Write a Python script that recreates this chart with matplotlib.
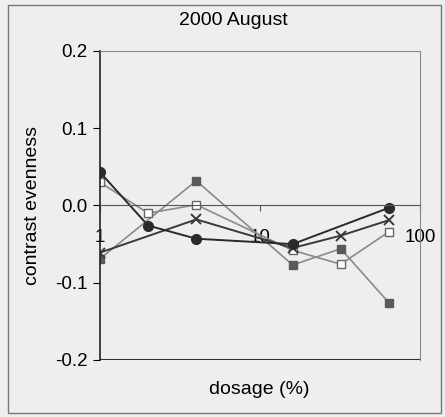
import numpy as np
import matplotlib.pyplot as plt
from matplotlib.patches import Rectangle

# dosage (%) and contrast evenness per series
dose_circle = [1, 2, 4, 16, 64]
circle = [0.043, -0.026, -0.043, -0.050, -0.003]

dose_cross = [1, 4, 16, 32, 64]
cross = [-0.061, -0.018, -0.055, -0.039, -0.019]

dose_open = [1, 2, 4, 16, 32, 64]
open_sq = [0.030, -0.010, 0.001, -0.058, -0.076, -0.034]

dose_fill = [1, 4, 16, 32, 64]
fill_sq = [-0.069, 0.032, -0.077, -0.056, -0.126]

yticks = [-0.2, -0.1, 0.0, 0.1, 0.2]
xticks = [1, 10, 100]

bg = '#eeeeee'
plt.rcParams['font.family'] = ['Liberation Sans', 'DejaVu Sans']

fig = plt.figure(figsize=(4.45, 4.17), dpi=100, facecolor=bg)
ax = fig.add_axes([0.2247, 0.1367, 0.719, 0.741], facecolor=bg)

ax.plot(dose_fill, fill_sq, color='#8a8a8a', lw=1.2, marker='s', ms=6,
        mfc='#5a5a5a', mec='#5a5a5a')
ax.plot(dose_open, open_sq, color='#8a8a8a', lw=1.2, marker='s', ms=6,
        mfc='white', mec='#666666')
ax.plot(dose_cross, cross, color='#3a3a3a', lw=1.4, marker='x', ms=7,
        mew=1.4)
ax.plot(dose_circle, circle, color='#2a2a2a', lw=1.4, marker='o', ms=7,
        mfc='#2a2a2a', mec='#2a2a2a')

ax.set_xscale('log')
ax.set_xlim(1, 100)
ax.set_ylim(-0.2, 0.2)

ax.spines['bottom'].set_position(('data', 0))
ax.spines['bottom'].set_color('#555555')
ax.spines['left'].set_color('#222222')
ax.spines['left'].set_linewidth(1.2)
ax.spines['top'].set_color('#888888')
ax.spines['right'].set_color('#888888')
ax.axhline(-0.2, color='#333333', lw=1.5, zorder=0.5)

ax.set_xticks(xticks)
ax.set_xticklabels([str(t) for t in xticks])
ax.xaxis.set_minor_locator(plt.NullLocator())
ax.tick_params(axis='x', direction='out', length=4, pad=13, labelsize=13.5,
               color='#555555')
ax.set_yticks(yticks)
ax.set_yticklabels(['%.1f' % t for t in yticks])
ax.tick_params(axis='y', direction='out', length=5, labelsize=13.5, pad=4)

ax.set_ylabel('contrast evenness', fontsize=14, labelpad=10)
fig.text(0.582, 0.065, 'dosage (%)', ha='center', va='center', fontsize=14)
fig.text(0.524, 0.952, '2000 August', ha='center', va='center', fontsize=14)

fig.patches.append(Rectangle((0.018, 0.01), 0.972, 0.978, transform=fig.transFigure,
                             fill=False, edgecolor='#777777', lw=1))

fig.savefig('out.png', dpi=100, facecolor=bg)
